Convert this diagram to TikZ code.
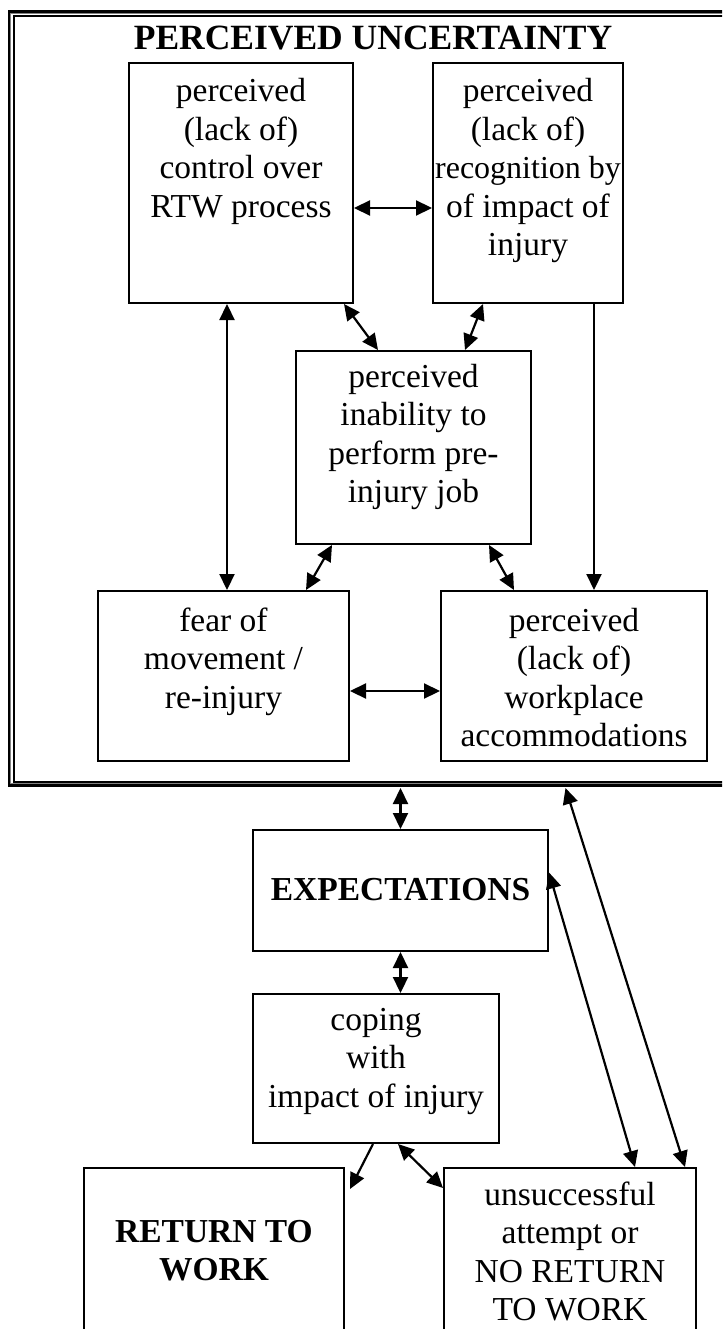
\documentclass[tikz,border=0pt]{standalone}
\usepackage{fontspec}
\setmainfont{Liberation Serif}
\usetikzlibrary{arrows.meta}

\newcommand{\boxfont}{\fontsize{33.5}{38.5}\selectfont}

% text height = top of box to the last baseline
\tikzset{
  box/.style={draw, line width=2pt, inner sep=0pt, align=center, anchor=north west, font=\boxfont},
  boldbox/.style={box, font=\boxfont\bfseries},
  link/.style={line width=2.2pt}
}

\begin{document}
\begin{tikzpicture}[x=1pt, y=-1pt, >={Triangle[length=16pt,width=15pt]}]
    \useasboundingbox (0,0) rectangle (722,1329);
    \clip (0,0) rectangle (722,1329);

    % frame round the uncertainty part
    \node[draw, line width=3pt, inner sep=0pt, minimum width=731pt, minimum height=773pt] (unc) at (374.5,398.5) {};
    \draw[gray, line width=0.8pt] ([shift={(3pt,-3pt)}]unc.north west) rectangle ([shift={(-3pt,3pt)}]unc.south east);
    \draw[line width=2pt] ([shift={(6pt,-5.5pt)}]unc.north west) rectangle ([shift={(-6pt,5pt)}]unc.south east);
    \node[font=\fontsize{35.5}{38.5}\selectfont\bfseries, anchor=base] (title) at (373,50) {PERCEIVED UNCERTAINTY};

    % boxes
    \node[box, minimum width=224pt, text height=154.5pt, text depth=85.5pt] (ctrl) at (128,62) {perceived\\(lack of)\\control over\\RTW process};
    \node[box, minimum width=190pt, text height=193pt, text depth=47pt] (recog) at (432,62) {perceived\\(lack of)\\{\fontsize{32}{38.5}\selectfont recognition by}\\of impact of\\injury};
    \node[box, minimum width=235pt, text height=151.5pt, text depth=41.5pt] (inab) at (295,350) {perceived\\inability to\\perform pre-\\injury job};
    \node[box, minimum width=251pt, text height=117pt, text depth=53pt] (fear) at (97,590) {fear of\\movement /\\re-injury};
    \node[box, minimum width=266pt, text height=155.5pt, text depth=14.5pt] (accom) at (440,590) {perceived\\(lack of)\\workplace\\accommodations};
    \node[boldbox, minimum width=295pt, text height=70pt, text depth=51pt] (expect) at (252,829) {EXPECTATIONS};
    \node[box, minimum width=246pt, text height=113pt, text depth=36pt] (coping) at (252,993) {coping\\with\\impact of injury};
    \node[boldbox, minimum width=260pt, text height=112.5pt, text depth=92.5pt] (rtw) at (83,1167) {RETURN TO\\WORK};
    \node[box, minimum width=252pt, text height=152.5pt, text depth=52.5pt] (fail) at (443,1167) {unsuccessful\\attempt or\\NO RETURN\\TO WORK};

    % links
    \draw[link, <->] ([yshift=-25pt]ctrl.east) -- ([yshift=-25pt]recog.west);
    \draw[link, <->] ([xshift=-10pt]ctrl.south east) -- ([xshift=83pt]inab.north west);
    \draw[link, <->] ([xshift=51pt]recog.south west) -- ([xshift=-67pt]inab.north east);
    \draw[link, <->] ([xshift=99pt]ctrl.south west) -- ([xshift=130pt]fear.north west);
    \draw[link, ->] ([xshift=-114pt]accom.north east |- recog.south) -- ([xshift=-114pt]accom.north east);
    \draw[link, <->] ([xshift=37pt]inab.south west) -- ([xshift=-44pt]fear.north east);
    \draw[link, <->] ([xshift=-43pt]inab.south east) -- ([xshift=74pt]accom.north west);
    \draw[link, <->] ([yshift=-15pt]fear.east) -- ([yshift=-15pt]accom.west);
    \draw[link, <->] ([yshift=-1.5pt]expect.north |- unc.south) -- (expect.north);
    \draw[link, <->] ([xshift=191pt, yshift=-1.5pt]unc.south) -- ([xshift=-12pt]fail.north east);
    \draw[link, <->] ([yshift=18pt]expect.east) -- ([xshift=192pt]fail.north west);
    \draw[link, <->] (expect.south) -- (expect.south |- coping.north);
    \draw[link, ->] ([xshift=-3pt]coping.south) -- ([shift={(5pt,-22pt)}]rtw.north east);
    \draw[link, <->] ([xshift=22pt]coping.south) -- ([yshift=-21pt]fail.north west);
\end{tikzpicture}
\end{document}
